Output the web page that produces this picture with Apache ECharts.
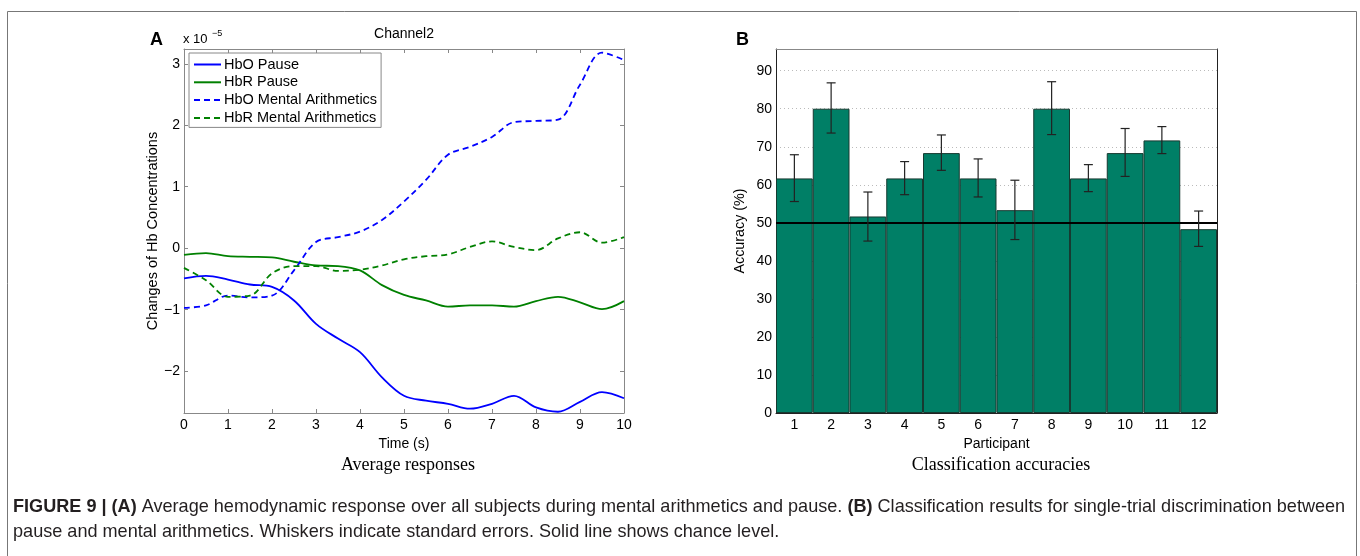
<!DOCTYPE html>
<html>
<head>
<meta charset="utf-8">
<script src="https://cdn.jsdelivr.net/npm/echarts@6/dist/echarts.min.js"></script>
<style>
  html, body { margin: 0; padding: 0; background: #fff; }
  #chart { width: 1360px; height: 556px; }
</style>
</head>
<body>
<div id="chart"></div>
<script>
// panel A: average responses (values in units of 1e-5)
const time = [0, 0.5, 1, 1.5, 2, 2.5, 3, 3.5, 4, 4.5, 5, 5.5, 6, 6.5, 7, 7.5, 8, 8.5, 9, 9.5, 10];
const hboPause = [-0.49, -0.45, -0.51, -0.59, -0.63, -0.85, -1.23, -1.47, -1.69, -2.10, -2.40, -2.48, -2.53, -2.61, -2.53, -2.40, -2.59, -2.66, -2.50, -2.34, -2.44];
const hbrPause = [-0.11, -0.08, -0.13, -0.14, -0.15, -0.22, -0.28, -0.29, -0.36, -0.60, -0.76, -0.85, -0.95, -0.93, -0.93, -0.95, -0.86, -0.79, -0.88, -0.99, -0.86];
const hboMental = [-0.97, -0.93, -0.77, -0.80, -0.77, -0.36, 0.10, 0.18, 0.27, 0.46, 0.76, 1.11, 1.52, 1.65, 1.81, 2.05, 2.07, 2.09, 2.66, 3.18, 3.06];
const hbrMental = [-0.32, -0.52, -0.79, -0.77, -0.41, -0.29, -0.29, -0.37, -0.35, -0.28, -0.18, -0.13, -0.10, 0.02, 0.11, 0.02, -0.03, 0.16, 0.26, 0.09, 0.18];

// panel B: classification accuracies
const participants = ['1', '2', '3', '4', '5', '6', '7', '8', '9', '10', '11', '12'];
const accuracy = [61.67, 80, 51.67, 61.67, 68.33, 61.67, 53.33, 80, 61.67, 68.33, 71.67, 48.33];
const errUpper = [67.9, 86.8, 58.1, 66.1, 73.1, 66.8, 61.2, 87.1, 65.3, 74.8, 75.3, 53.1];
const errLower = [55.6, 73.6, 45.2, 57.4, 63.8, 56.8, 45.6, 73.2, 58.2, 62.2, 68.2, 43.8];
const chanceLevel = 50;

const FONT = '"Liberation Sans", Arial, sans-serif';
const SERIF = '"Liberation Serif", "Times New Roman", serif';

const chart = echarts.init(document.getElementById('chart'), null, { renderer: 'canvas' });

function curve(name, values, color, dashed) {
  return {
    type: 'line',
    name: name,
    xAxisIndex: 0,
    yAxisIndex: 0,
    data: time.map((t, i) => [t, values[i]]),
    smooth: 0.35,
    symbol: 'none',
    lineStyle: { color: color, width: 1.8, type: dashed ? [6, 4] : 'solid' },
    itemStyle: { color: color },
    z: 3
  };
}

const intOnly = v => Math.abs(v - Math.round(v)) < 1e-6 ? String(v).replace('-', '\u2212') : '';
const boxTick = { inside: true, length: 4, lineStyle: { color: '#888' } };

const option = {
  animation: false,
  textStyle: { fontFamily: FONT },
  grid: [
    { left: 184, top: 49, width: 440, height: 364 },
    { left: 776, top: 49, width: 441, height: 364 }
  ],
  legend: {
    data: ['HbO Pause', 'HbR Pause', 'HbO Mental Arithmetics', 'HbR Mental Arithmetics'],
    left: 189,
    top: 53,
    orient: 'vertical',
    itemWidth: 27,
    itemHeight: 14,
    itemGap: 2.8,
    padding: [4, 4, 2, 4],
    borderColor: '#888',
    borderWidth: 1,
    borderRadius: 0,
    backgroundColor: '#fff',
    selectedMode: false,
    itemStyle: { opacity: 0 },
    textStyle: { fontSize: 14.5, color: '#000', fontFamily: FONT, padding: [0, 0, 0, -2] },
    z: 10
  },
  xAxis: [
    {
      type: 'value', gridIndex: 0, min: 0, max: 10, interval: 1,
      axisLine: { onZero: false, lineStyle: { color: '#888' } },
      axisTick: boxTick,
      axisLabel: { color: '#000', fontSize: 14, margin: 5 },
      splitLine: { show: false },
      name: 'Time (s)', nameLocation: 'middle', nameGap: 19,
      nameTextStyle: { color: '#000', fontSize: 14 }
    },
    {
      type: 'value', gridIndex: 0, position: 'top', min: 0, max: 10, interval: 1,
      axisLine: { onZero: false, lineStyle: { color: '#888' } },
      axisTick: boxTick,
      axisLabel: { show: false },
      splitLine: { show: false }
    },
    {
      type: 'category', gridIndex: 1, data: participants,
      axisLine: { onZero: false, lineStyle: { color: '#222', width: 1 } },
      axisTick: { show: false },
      axisLabel: { color: '#000', fontSize: 14, margin: 5 },
      name: 'Participant', nameLocation: 'middle', nameGap: 19,
      nameTextStyle: { color: '#000', fontSize: 14 }
    },
    {
      type: 'category', gridIndex: 1, position: 'top', data: participants,
      axisLine: { onZero: false, lineStyle: { color: '#888' } },
      axisTick: { show: false },
      axisLabel: { show: false }
    }
  ],
  yAxis: [
    {
      type: 'value', gridIndex: 0, min: -2.68, max: 3.24, splitNumber: 6,
      axisLine: { show: true, onZero: false, lineStyle: { color: '#888' } },
      axisTick: Object.assign({ show: true }, boxTick),
      axisLabel: { color: '#000', fontSize: 14, margin: 4, formatter: intOnly },
      splitLine: { show: false },
      name: 'Changes of Hb Concentrations', nameLocation: 'middle', nameGap: 23,
      nameTextStyle: { color: '#000', fontSize: 14.5 }
    },
    {
      type: 'value', gridIndex: 0, position: 'right', min: -2.68, max: 3.24, splitNumber: 6,
      axisLine: { show: true, onZero: false, lineStyle: { color: '#888' } },
      axisTick: Object.assign({ show: true }, boxTick),
      axisLabel: { show: false },
      splitLine: { show: false }
    },
    {
      type: 'value', gridIndex: 1, min: 0, max: 95.7, interval: 10,
      axisLine: { show: true, onZero: false, lineStyle: { color: '#222' } },
      axisTick: { show: false },
      axisLabel: {
        color: '#000', fontSize: 14, margin: 4,
        formatter: v => (Math.abs(v % 10) < 1e-6 ? String(v) : '')
      },
      splitLine: { show: true, lineStyle: { color: '#bbb', type: [1, 3] } },
      name: 'Accuracy (%)', nameLocation: 'middle', nameGap: 29,
      nameTextStyle: { color: '#000', fontSize: 14.3 }
    },
    {
      type: 'value', gridIndex: 1, position: 'right', min: 0, max: 95.7,
      axisLine: { show: true, onZero: false, lineStyle: { color: '#222' } },
      axisTick: { show: false },
      axisLabel: { show: false },
      splitLine: { show: false }
    }
  ],
  series: [
    curve('HbO Pause', hboPause, '#0000ff', false),
    curve('HbR Pause', hbrPause, '#008000', false),
    curve('HbO Mental Arithmetics', hboMental, '#0000ff', true),
    curve('HbR Mental Arithmetics', hbrMental, '#008000', true),
    {
      type: 'bar',
      xAxisIndex: 2,
      yAxisIndex: 2,
      data: accuracy,
      barCategoryGap: '0%',
      itemStyle: { color: '#007f66', borderColor: '#173a31', borderWidth: 1 },
      markLine: {
        silent: true,
        symbol: ['none', 'none'],
        label: { show: false },
        lineStyle: { color: '#000', width: 2, type: 'solid' },
        data: [{ yAxis: chanceLevel }],
        z: 5
      }
    },
    {
      type: 'custom',
      xAxisIndex: 2,
      yAxisIndex: 2,
      data: participants.map((p, i) => [i, errLower[i], errUpper[i]]),
      encode: { x: 0, y: [1, 2] },
      z: 6,
      renderItem: function (params, api) {
        const lo = api.coord([api.value(0), api.value(1)]);
        const hi = api.coord([api.value(0), api.value(2)]);
        const w = 4.5;
        const style = { stroke: '#222', lineWidth: 1.2 };
        return {
          type: 'group',
          children: [
            { type: 'line', shape: { x1: lo[0], y1: lo[1], x2: hi[0], y2: hi[1] }, style: style },
            { type: 'line', shape: { x1: lo[0] - w, y1: lo[1], x2: lo[0] + w, y2: lo[1] }, style: style },
            { type: 'line', shape: { x1: hi[0] - w, y1: hi[1], x2: hi[0] + w, y2: hi[1] }, style: style }
          ]
        };
      }
    }
  ],
  graphic: [
    {
      type: 'polyline', silent: true,
      shape: { points: [[7.5, 556], [7.5, 11.5], [1356.5, 11.5], [1356.5, 556]] },
      style: { stroke: '#777', lineWidth: 1, fill: null }
    },
    { type: 'text', left: 150, top: 31, style: { text: 'A', font: 'bold 18px ' + FONT, fill: '#000' } },
    { type: 'text', left: 736, top: 31, style: { text: 'B', font: 'bold 18px ' + FONT, fill: '#000' } },
    { type: 'text', left: 183, top: 33, style: { text: 'x 10', font: '13px ' + FONT, fill: '#000' } },
    { type: 'text', left: 212, top: 29, style: { text: '\u22125', font: '9px ' + FONT, fill: '#000' } },
    { type: 'text', x: 404, y: 34, style: { text: 'Channel2', font: '14px ' + FONT, fill: '#000', align: 'center', verticalAlign: 'middle' } },
    { type: 'text', x: 408, y: 465, style: { text: 'Average responses', font: '18px ' + SERIF, fill: '#000', align: 'center', verticalAlign: 'middle' } },
    { type: 'text', x: 1001, y: 465, style: { text: 'Classification accuracies', font: '18px ' + SERIF, fill: '#000', align: 'center', verticalAlign: 'middle' } },
    {
      type: 'text', x: 13, y: 507,
      style: {
        text: '{b|FIGURE 9 | (A)} Average hemodynamic response over all subjects during mental arithmetics and pause. {b|(B)} Classification results for single-trial discrimination between',
        font: '18.1px ' + FONT, fill: '#231f20', verticalAlign: 'middle',
        rich: { b: { fontWeight: 'bold', fontSize: 18.1, fontFamily: FONT, fill: '#231f20' } }
      }
    },
    {
      type: 'text', x: 13, y: 532,
      style: { text: 'pause and mental arithmetics. Whiskers indicate standard errors. Solid line shows chance level.', font: '18.1px ' + FONT, fill: '#231f20', verticalAlign: 'middle' }
    }
  ]
};

chart.setOption(option);
</script>
</body>
</html>
